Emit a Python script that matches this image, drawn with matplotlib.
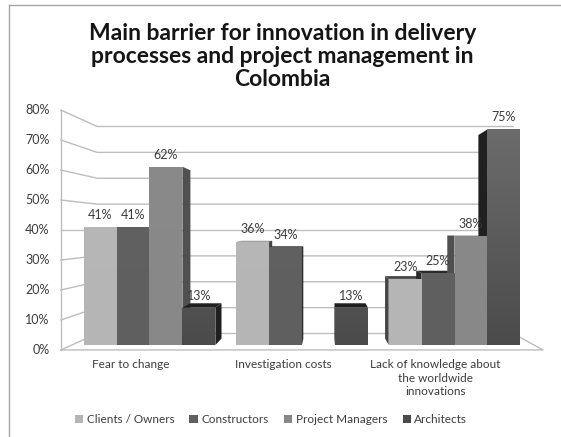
import matplotlib
matplotlib.use('Agg')
import matplotlib.pyplot as plt
from matplotlib.patches import Polygon, Patch
from matplotlib.lines import Line2D
from matplotlib.colors import LinearSegmentedColormap
import numpy as np

categories = ['Fear to change', 'Investigation costs',
              'Lack of knowledge about\nthe worldwide\ninnovations']
series = ['Clients / Owners', 'Constructors', 'Project Managers', 'Architects']
clients = [41, 36, 23]
constructors = [41, 34, 25]
managers = [62, 0, 38]
architects = [13, 13, 75]
yticks = [0, 10, 20, 30, 40, 50, 60, 70, 80]

values = [clients, constructors, managers, architects]
front_colors = ['#b5b5b5', '#5f5f5f', '#888888', '#4b4b4b']
top_colors = ['#b8b8b8', '#626262', '#8a8a8a', '#6e6e6e']   # lighter toward the top
side_colors = ['#444444', '#2a2a2a', '#505050', '#202020']

plt.rcParams['font.family'] = ['Lato', 'DejaVu Sans']

fig = plt.figure(figsize=(5.61, 4.37), dpi=100)
ax = fig.add_axes([0, 0, 1, 1])
ax.axis('off')

# fake 3d perspective: vanishing point and depth factors
xv, vv = 1.151, 40.0
F_FRONT, F_BACK, F_BAR = 1.043, 0.90, 0.944
x_left, x_right = -0.509, 2.521


def proj(x, v, f):
    return xv + (x - xv) * f, vv + (v - vv) * f


grid_c = '#bdbdbd'
for t in yticks:
    fx, fy = proj(x_left, t, F_FRONT)
    bx, by = proj(x_left, t, F_BACK)
    rx, ry = proj(x_right, t, F_BACK)
    ax.plot([fx, bx, rx], [fy, by, ry], color=grid_c, lw=1, zorder=1)
    ax.text(fx - 0.075, fy, f'{t}%', ha='right', va='center', fontsize=9, color='#3c3c3c')

# axis line and floor
p0 = proj(x_left, 0, F_FRONT)
p1 = proj(x_left, yticks[-1], F_FRONT)
ax.plot([p0[0], p1[0]], [p0[1], p1[1]], color=grid_c, lw=1, zorder=1)
fr = proj(x_right, 0, F_FRONT)
br = proj(x_right, 0, F_BACK)
ax.plot([p0[0], fr[0], br[0]], [p0[1], fr[1], br[1]], color=grid_c, lw=1, zorder=1)

# bars
w = 0.216
offsets = (np.arange(4) - 1.5) * w
x = np.arange(len(categories))
grad = np.linspace(0, 1, 128).reshape(-1, 1)
for i, vals in enumerate(values):
    centers = x + offsets[i]
    bars = ax.bar(centers, vals, width=w, color=front_colors[i], zorder=3, linewidth=0)
    cmap = LinearSegmentedColormap.from_list('g%d' % i, [front_colors[i], top_colors[i]])
    for b, c, v in zip(bars, centers, vals):
        if v <= 0:
            continue
        im = ax.imshow(grad, cmap=cmap, vmin=0, vmax=1, origin='lower', aspect='auto',
                       extent=(c - w / 2, c + w / 2, 0, yticks[-1]), zorder=3.1,
                       interpolation='bilinear')
        im.set_clip_path(b)
        x0, x1 = c - w / 2, c + w / 2
        faces = []
        if x1 < xv:
            faces.append([(x1, 0), (x1, v), proj(x1, v, F_BAR), proj(x1, 0, F_BAR)])
        elif x0 > xv:
            faces.append([(x0, 0), (x0, v), proj(x0, v, F_BAR), proj(x0, 0, F_BAR)])
        if v < vv:
            faces.append([(x0, v), (x1, v), proj(x1, v, F_BAR), proj(x0, v, F_BAR)])
        for poly in faces:
            ax.add_patch(Polygon(poly, closed=True, facecolor=side_colors[i],
                                 edgecolor='none', zorder=2))
        ax.text(c, v + 4.2, f'{v}%', ha='center', va='center', fontsize=9,
                color='#3c3c3c', zorder=4)
ax.set_xlim(-0.980, 2.698)
ax.set_ylim(-32, 120)

for xi, cat in zip(x, categories):
    ax.text(xi - 0.125, -4.9, cat, ha='center', va='top', fontsize=8.5,
            color='#3c3c3c', linespacing=1.3)

fig.text(0.504, 0.948, 'Main barrier for innovation in delivery\n'
         'processes and project management in\nColombia',
         ha='center', va='top', fontsize=16.5, fontweight='bold', color='#151515',
         linespacing=1.12)

handles = [Patch(facecolor=c, label=s) for c, s in zip(front_colors, series)]
fig.legend(handles=handles, loc='center', bbox_to_anchor=(0.483, 0.039), ncol=4,
           frameon=False, fontsize=8.5, handlelength=0.7, handleheight=0.7,
           handletextpad=0.3, columnspacing=1.3, labelcolor='#3c3c3c')

# chart frame (cropped)
fig.add_artist(Line2D([9 / 561, 1], [1 - 5 / 437] * 2, transform=fig.transFigure,
                      color='#a6a6a6', lw=1))
fig.add_artist(Line2D([9 / 561] * 2, [0, 1 - 5 / 437], transform=fig.transFigure,
                      color='#a6a6a6', lw=1))

fig.savefig('out.png', dpi=100)
